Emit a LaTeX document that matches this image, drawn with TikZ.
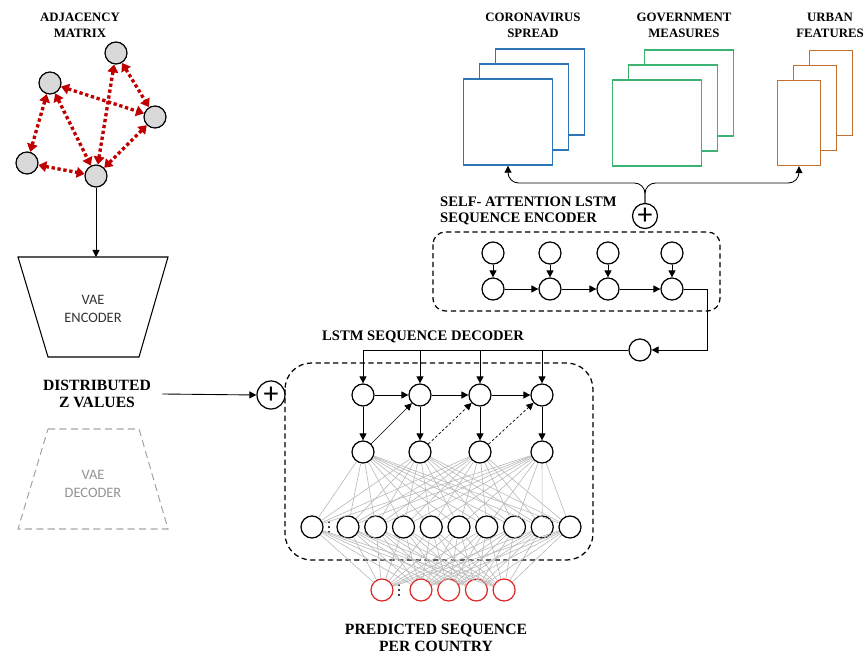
\documentclass[tikz,border=0pt]{standalone}
\usepackage{fontspec}
\setmainfont{Liberation Serif}
\setsansfont{Carlito}
\usetikzlibrary{arrows.meta}

\definecolor{adjred}{RGB}{192,0,0}
\definecolor{covblue}{RGB}{46,117,182}
\definecolor{govgreen}{RGB}{60,179,113}
\definecolor{urbbrown}{RGB}{197,110,50}
\definecolor{outred}{RGB}{222,40,40}

\tikzset{
	unit/.style={circle,draw,line width=0.7pt,minimum size=0.44cm,inner sep=0pt,fill=white},
	adjnode/.style={unit,fill=gray!30},
	outnode/.style={unit,draw=outred},
	plusnode/.style={circle,draw,line width=0.7pt,minimum size=#1,inner sep=0pt,fill=white,font=\sffamily\fontsize{17}{17}\selectfont},
	adjedge/.style={adjred,line width=1.9pt,dash pattern=on 1.9pt off 1.5pt,{Triangle[length=4.5pt,width=6pt]}-{Triangle[length=4.5pt,width=6pt]}},
	conn/.style={line width=0.5pt,-{Triangle[length=4pt,width=4pt]}},
	fan/.style={gray!55,line width=0.35pt},
	boxdash/.style={line width=0.7pt,dash pattern=on 3pt off 2pt},
	toptitle/.style={font=\bfseries\fontsize{7.3}{9}\selectfont,align=center},
	midtitle/.style={font=\bfseries\fontsize{8.3}{9.2}\selectfont,align=left},
	bigtitle/.style={font=\bfseries\fontsize{8.9}{10}\selectfont,align=center},
	vaetext/.style={align=center,font=\sffamily\fontsize{8.2}{10}\selectfont},
	stack/.style={draw=#1,line width=0.8pt,fill=white,minimum width=1.78cm,minimum height=1.72cm,inner sep=0pt},
	urbstack/.style={draw=urbbrown,line width=0.8pt,fill=white,minimum width=0.86cm,minimum height=1.7cm,inner sep=0pt},
}

\begin{document}
\begin{tikzpicture}[x=0.02cm,y=-0.02cm]
	\useasboundingbox (0,0) rectangle (867,655);

	% adjacency graph
	\node[toptitle] (adjt) at (80,25) {ADJACENCY\\MATRIX};
	\node[adjnode] (a1) at (116,53) {};
	\node[adjnode] (a2) at (50,83) {};
	\node[adjnode] (a3) at (155,117) {};
	\node[adjnode] (a4) at (27,163) {};
	\node[adjnode] (a5) at (96,176) {};
	\foreach \u/\v in {a2/a4,a2/a5,a2/a3,a1/a5,a1/a3,a4/a5,a3/a5}
		\draw[adjedge] (\u) -- (\v);

	% vae
	\draw[line width=0.6pt] (18,257) -- (168,257) -- (139,357) -- (48,357) -- cycle;
	\node[vaetext,text=black!80] (enc) at (93,309) {VAE\\ENCODER};
	\coordinate (enctop) at (96,257);
	\draw[conn] (a5) -- (enctop);
	\node[bigtitle] (zv) at (97,394) {DISTRIBUTED\\Z VALUES};
	\draw[gray!70,line width=0.6pt,dash pattern=on 4pt off 2.5pt] (48,429) -- (139,429) -- (168,529) -- (18,529) -- cycle;
	\node[vaetext,text=gray!85] (dec) at (93,484) {VAE\\DECODER};
	\node[plusnode=0.56cm] (pdec) at (271,395) {+};
	\draw[conn] ([xshift=3pt]zv.east) -- (pdec.west);

	% input features
	\node[toptitle] (covt) at (533,25) {CORONAVIRUS\\SPREAD};
	\node[toptitle] (govt) at (684,25) {GOVERNMENT\\MEASURES};
	\node[toptitle] (urbt) at (830,25) {URBAN\\FEATURES};
	\foreach \k/\dx/\dy in {3/32/-30,2/16/-15,1/0/0}{
		\node[stack=covblue] (cov\k) at (508+\dx,122+\dy) {};
		\node[stack=govgreen] (gov\k) at (657+\dx,123+\dy) {};
		\node[urbstack] (urb\k) at (799+\dx,123+\dy) {};
	}

	% encoder
	\node[midtitle,anchor=west] (enct) at (434,211) {SELF- ATTENTION LSTM\\SEQUENCE ENCODER};
	\node[plusnode=0.5cm] (penc) at (645,216) {+};
	\coordinate (brc) at (645,183);
	\draw[conn,rounded corners=6pt] (penc.north) -- (brc) -| (cov1.south);
	\draw[conn,rounded corners=6pt] (penc.north) -- (brc) -| (urb1.south);
	\draw[boxdash,rounded corners=7pt] (433,232) rectangle (720,311);
	\foreach \i/\x in {1/493,2/550,3/608,4/672}{
		\node[unit] (e\i) at (\x,253) {};
		\node[unit] (h\i) at (\x,289) {};
		\draw[conn] (e\i) -- (h\i);
	}
	\foreach \i/\j in {1/2,2/3,3/4}
		\draw[conn] (h\i) -- (h\j);
	\node[unit] (ctx) at (640,350) {};
	\draw[conn] (h4.east) -- ++(24,0) |- (ctx.east);

	% decoder
	\node[midtitle,anchor=west] (dect) at (316,337) {LSTM SEQUENCE DECODER};
	\draw[boxdash,rounded corners=15pt] (285,363) rectangle (593,560);
	\foreach \i/\x in {1/363,2/420,3/480,4/542}{
		\node[unit] (d\i) at (\x,395) {};
		\node[unit] (s\i) at (\x,452) {};
		\draw[conn] (d\i) -- (s\i);
	}
	\draw[conn] (ctx.west) -| (d1.north);
	\foreach \i in {2,3,4}
		\draw[conn] (d\i.north |- ctx.west) -- (d\i.north);
	\foreach \i/\j in {1/2,2/3,3/4}
		\draw[conn] (d\i) -- (d\j);
	\draw[conn,line width=0.4pt] (s1) -- (d2);
	\draw[conn,line width=0.4pt,dash pattern=on 1.5pt off 1.2pt] (s2) -- (d3);
	\draw[conn,line width=0.4pt,dash pattern=on 1.5pt off 1.2pt] (s3) -- (d4);

	\node[unit] (o0) at (312,527) {};
	\foreach \j in {1,...,9}
		\node[unit] (o\j) at (348+27.75*\j-27.75,527) {};
	\node[outnode] (p0) at (382,590) {};
	\foreach \k in {1,...,4}
		\node[outnode] (p\k) at (421+27.7*\k-27.7,590) {};
	\foreach \y in {-5,0,5}{
		\fill (329,527+\y) circle (0.7pt);
		\fill (399,590+\y) circle (0.7pt);
	}
	\foreach \i in {1,...,4}
		\foreach \j in {0,...,9}
			\draw[fan] (s\i) -- (o\j);
	\foreach \j in {0,...,9}
		\foreach \k in {0,...,4}
			\draw[fan] (o\j) -- (p\k);

	\node[bigtitle] (predt) at (436,638) {PREDICTED SEQUENCE\\PER COUNTRY};
\end{tikzpicture}
\end{document}
